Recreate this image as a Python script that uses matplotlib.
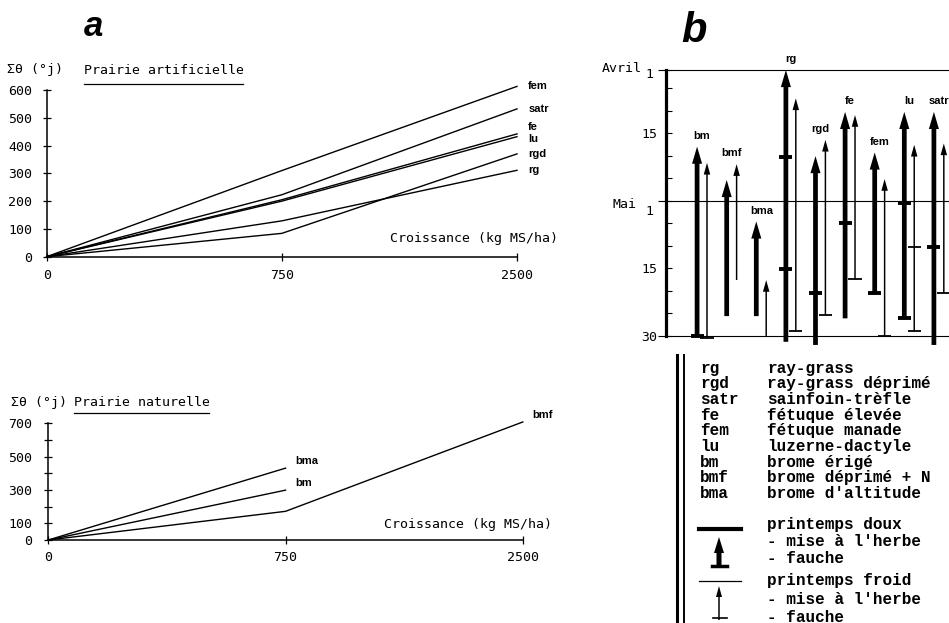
import numpy as np
import matplotlib.pyplot as plt

W, H = 949, 623
MONO = 'DejaVu Sans Mono'
COUR = 'Liberation Mono'
SANS = 'Liberation Sans'

# a : somme de temperatures (°j) selon la croissance (kg MS/ha)
croissance = [0, 750, 2500]
# prairie artificielle
fem = [0, 310, 613]
satr = [0, 223, 532]
fe = [0, 205, 442]
lu = [0, 200, 432]
rgd = [0, 84, 370]
rg = [0, 129, 311]
art_noms = ['fem', 'satr', 'fe', 'lu', 'rgd', 'rg']
# prairie naturelle
bma = [0, 431]
bm = [0, 299]
bmf = [0, 172, 708]
nat_noms = ['bma', 'bm', 'bmf']

# b : dates (1 = 1er avril, 30 = 1er mai, 60 = 30 mai)
especes = ['bm', 'bmf', 'bma', 'rg', 'rgd', 'fe', 'fem', 'lu', 'satr']
doux_herbe = [18.0, 25.4, 34.6, 1.0, 20.1, 10.3, 19.3, 10.3, 10.3]
doux_fin = [60.0, 55.6, 55.6, 61.3, 62.0, 56.1, 50.5, 56.1, 62.0]
doux_fauche = [[60.0], [], [], [20.4, 45.2], [50.5], [35.0], [50.5], [30.4, 56.1], [40.2]]
froid_herbe = [21.6, 21.9, 47.6, 7.3, 16.5, 11.0, 25.2, 17.6, 17.3]
froid_fin = [60.5, 47.6, 60.0, 59.0, 55.3, 47.4, 60.0, 59.0, 50.5]
froid_fauche = [[60.5], [], [], [59.0], [55.3], [47.4], [60.0], [40.2, 59.0], [50.5]]

codes = ['rg', 'rgd', 'satr', 'fe', 'fem', 'lu', 'bm', 'bmf', 'bma']
noms = ['ray-grass', 'ray-grass déprimé', 'sainfoin-trèfle', 'fétuque élevée',
        'fétuque manade', 'luzerne-dactyle', 'brome érigé', 'brome déprimé + N',
        "brome d'altitude"]

fig = plt.figure(figsize=(W / 100, H / 100), dpi=100)
fig.patch.set_facecolor('white')


def px_axes(l, t, r, b):
    return fig.add_axes([l / W, 1 - b / H, (r - l) / W, (b - t) / H])


def fwd(x):
    return np.interp(x, [0, 750, 2500], [0, 1, 2])


def inv(x):
    return np.interp(x, [0, 1, 2], [0, 750, 2500])


def panneau(ax, ymax, yt, ylab, xpad, ypad):
    ax.set_xscale('function', functions=(fwd, inv))
    ax.set_xlim(0, 2500)
    ax.set_ylim(0, ymax)
    ax.patch.set_alpha(0)
    for s in ['top', 'right']:
        ax.spines[s].set_visible(False)
    for s in ['left', 'bottom']:
        ax.spines[s].set_linewidth(1.1)
    ax.set_xticks(croissance)
    ax.set_xticklabels([str(c) for c in croissance])
    ax.set_yticks(yt)
    ax.set_yticklabels(ylab)
    ax.tick_params(direction='inout', length=6, width=0.9, labelsize=9.5,
                   labelfontfamily=MONO)
    ax.tick_params(axis='x', pad=xpad)
    ax.tick_params(axis='y', pad=ypad)


# --- a, prairie artificielle ---
ax1 = px_axes(46.7, 90, 517, 256.7)
panneau(ax1, 600, range(0, 601, 100), [str(v) for v in range(0, 601, 100)], 5.8, 7.5)
nudge = {'fe': 5, 'lu': -1.5}
for nom, vals in zip(art_noms, [fem, satr, fe, lu, rgd, rg]):
    ax1.plot(croissance[:len(vals)], vals, color='k', lw=1.0, clip_on=False)
    ax1.annotate(nom, xy=(croissance[len(vals) - 1], vals[-1]),
                 xytext=(8, nudge.get(nom, 0)), textcoords='offset points',
                 ha='left', va='center', family=SANS, weight='bold', fontsize=8,
                 annotation_clip=False)

# --- a, prairie naturelle ---
ax2 = px_axes(48.3, 423.3, 522.8, 540)
lab2 = ['0', '100', '', '300', '', '500', '', '700']
panneau(ax2, 700, range(0, 701, 100), lab2, 5, 8.6)
for nom, vals in zip(nat_noms, [bma, bm, bmf]):
    ax2.plot(croissance[:len(vals)], vals, color='k', lw=1.0, clip_on=False)
    ax2.annotate(nom, xy=(croissance[len(vals) - 1], vals[-1]),
                 xytext=(7, 5), textcoords='offset points',
                 ha='left', va='center', family=SANS, weight='bold', fontsize=8,
                 annotation_clip=False)

# --- b, calendrier ---
ax3 = px_axes(666, 56, 949, 349)
ax3.set_xlim(-1.05, 8.51)
ax3.set_ylim(62.9, -2.1)
ax3.patch.set_alpha(0)
for s in ['top', 'right', 'bottom']:
    ax3.spines[s].set_visible(False)
ax3.spines['left'].set_linewidth(2.3)
ax3.spines['left'].set_bounds(1, 60)
ax3.set_xticks([])
ax3.set_yticks([1, 15, 30, 45, 60])
ax3.set_yticklabels(['', '15', '', '15', '30'])
ax3.set_yticks([5, 10, 20, 25, 35, 40, 50, 55], minor=True)
ax3.tick_params(axis='y', which='both', direction='in', length=4.5, width=0.8,
                pad=6.5, labelsize=9.5, labelfontfamily=MONO)
ax3.hlines([1, 30, 60], -1.32, 8.51, color='k', lw=0.8, clip_on=False)

for txt, d, dx, dy in [('Avril', 1, -17.3, 1.2), ('1', 1, -9.4, -3.6),
                       ('Mai', 30, -21, -2.4), ('1', 30, -9.4, -8)]:
    ax3.annotate(txt, xy=(0, d), xycoords=('axes fraction', 'data'),
                 xytext=(dx, dy), textcoords='offset points', ha='right',
                 va='center', family=MONO, fontsize=9.5, annotation_clip=False)


def fleche(ax, x, haut, bas, epais):
    if epais:
        w, hw, hl = 0.16, 0.34, 3.8
    else:
        w, hw, hl = 0.05, 0.22, 2.6
    ax.arrow(x, bas, 0, haut - bas, width=w, head_width=hw, head_length=hl,
             length_includes_head=True, fc='k', ec='none', lw=0)


for i, esp in enumerate(especes):
    xd, xf = i, i + 0.335
    fleche(ax3, xd, doux_herbe[i], doux_fin[i], True)
    fleche(ax3, xf, froid_herbe[i], froid_fin[i], False)
    for f in doux_fauche[i]:
        ax3.hlines(f, xd - 0.22, xd + 0.22, color='k', lw=2.8)
    for f in froid_fauche[i]:
        ax3.hlines(f, xf - 0.22, xf + 0.22, color='k', lw=1.3)
    ax3.text(i + 0.17, min(doux_herbe[i], froid_herbe[i]) - 2.4, esp,
             ha='center', va='center', family=SANS, weight='bold', fontsize=8,
             clip_on=False)

# --- textes et legende, en pixels ---
axo = fig.add_axes([0, 0, 1, 1])
axo.set_xlim(0, W)
axo.set_ylim(H, 0)
axo.axis('off')

lettre = dict(family=SANS, weight='bold', style='italic', ha='center', va='baseline')
axo.text(94, 36, 'a', fontsize=25, **lettre)
axo.text(694, 42, 'b', fontsize=30, **lettre)

mono = dict(family=MONO, fontsize=9.5, va='center')
axo.text(7, 70, 'Σθ (°j)', ha='left', **mono)
axo.text(83.7, 70, 'Prairie artificielle', ha='left', **mono)
axo.plot([83.7, 242.6], [84.1, 84.1], color='k', lw=0.9)
axo.text(558.5, 238.4, 'Croissance (kg MS/ha)', ha='right', **mono)

axo.text(11, 402.7, 'Σθ (°j)', ha='left', **mono)
axo.text(74, 402.7, 'Prairie naturelle', ha='left', **mono)
axo.plot([74, 209.3], [413.3, 413.3], color='k', lw=0.9)
axo.text(551.6, 524.5, 'Croissance (kg MS/ha)', ha='right', **mono)

cour = dict(family=COUR, weight='bold', fontsize=11.5, va='center', ha='left')
for k, (c, n) in enumerate(zip(codes, noms)):
    y = 368 + k * 15.7
    axo.text(700, y, c, **cour)
    axo.text(767, y, n, **cour)

axo.plot([677, 677], [355, 623], color='k', lw=2.2)
axo.plot([684, 684], [355, 623], color='k', lw=1.4)

axo.plot([699, 741], [529, 529], color='k', lw=3)
axo.arrow(719, 568, 0, -31, width=5, head_width=10, head_length=16,
          length_includes_head=True, fc='k', ec='none', lw=0)
axo.plot([712, 727], [566, 566], color='k', lw=2.5)
axo.plot([699, 741], [581, 581], color='k', lw=0.9)
axo.arrow(719, 620, 0, -34, width=1.5, head_width=6, head_length=11,
          length_includes_head=True, fc='k', ec='none', lw=0)
axo.plot([713, 727], [618, 618], color='k', lw=1.2)

for txt, y in [('printemps doux', 525), ("- mise à l'herbe", 541.7), ('- fauche', 558.3),
               ('printemps froid', 580), ("- mise à l'herbe", 600), ('- fauche', 617)]:
    axo.text(767, y, txt, **cour)

fig.savefig('out.png', dpi=100)
